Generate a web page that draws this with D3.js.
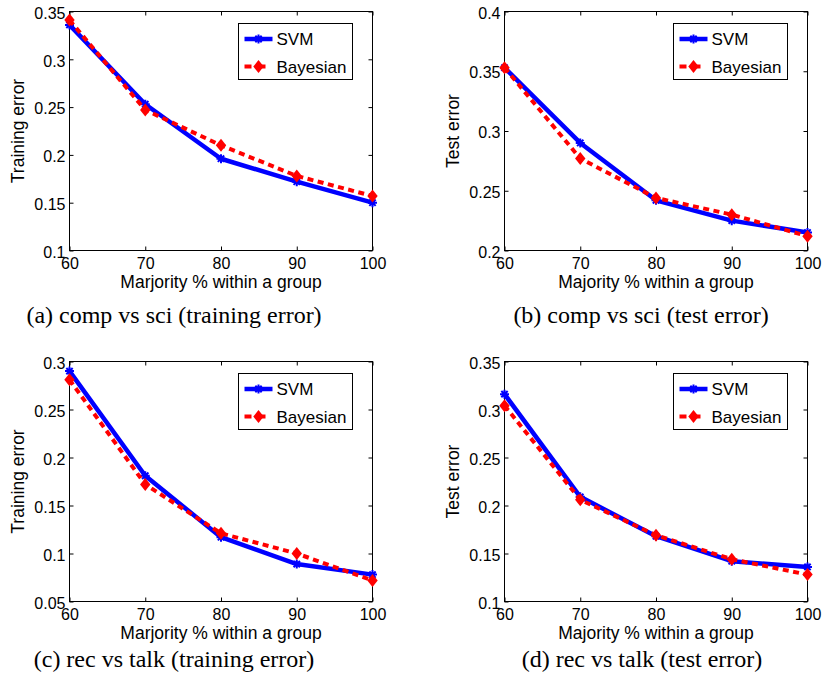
<!DOCTYPE html>
<html>
<head>
<meta charset="utf-8">
<script src="https://cdn.jsdelivr.net/npm/d3@7"></script>
<style>
  body { margin: 0; background: #fff; }
  svg { display: block; }
  .tick text { font-family: "Liberation Sans", Arial, sans-serif; font-size: 16px; fill: #000; }
  .tick line { stroke: #000; }
</style>
</head>
<body>
<div id="chart-area"></div>
<script>
// x values shared by all four panels
var majority = [60, 70, 80, 90, 100];

// (a) comp vs sci, training error
var svmCompTrain = [0.336, 0.253, 0.196, 0.172, 0.150];
var bayCompTrain = [0.341, 0.247, 0.210, 0.178, 0.157];
// (b) comp vs sci, test error
var svmCompTest = [0.353, 0.290, 0.242, 0.225, 0.215];
var bayCompTest = [0.353, 0.277, 0.244, 0.230, 0.212];
// (c) rec vs talk, training error
var svmRecTrain = [0.290, 0.181, 0.117, 0.089, 0.078];
var bayRecTrain = [0.281, 0.172, 0.121, 0.100, 0.072];
// (d) rec vs talk, test error
var svmRecTest = [0.316, 0.209, 0.168, 0.142, 0.136];
var bayRecTest = [0.304, 0.206, 0.169, 0.144, 0.128];

var yTicksA = [0.1, 0.15, 0.2, 0.25, 0.3, 0.35];
var yTicksB = [0.2, 0.25, 0.3, 0.35, 0.4];
var yTicksC = [0.05, 0.1, 0.15, 0.2, 0.25, 0.3];
var yTicksD = [0.1, 0.15, 0.2, 0.25, 0.3, 0.35];

var yTitles = ["Training error", "Test error", "Training error", "Test error"];
var xTitles = ["Marjority % within a group", "Majority % within a group",
               "Marjority % within a group", "Majority % within a group"];
var captions = ["(a) comp vs sci (training error)", "(b) comp vs sci (test error)",
                "(c) rec vs talk (training error)", "(d) rec vs talk (test error)"];
var seriesNames = ["SVM", "Bayesian"];

var panels = [
  { svm: svmCompTrain, bay: bayCompTrain, ticks: yTicksA, left: 69,  top: 11,  h: 239, capX: 174, capY: 323 },
  { svm: svmCompTest,  bay: bayCompTest,  ticks: yTicksB, left: 504, top: 11,  h: 239, capX: 641, capY: 323 },
  { svm: svmRecTrain,  bay: bayRecTrain,  ticks: yTicksC, left: 69,  top: 361, h: 240, capX: 174, capY: 667 },
  { svm: svmRecTest,   bay: bayRecTest,   ticks: yTicksD, left: 504, top: 361, h: 240, capX: 642, capY: 667 }
];

var W = 824, H = 688, pw = 303;
var blue = "#0000ff", red = "#ff0000";

var svg = d3.select("#chart-area")
  .append("svg")
    .attr("width", W)
    .attr("height", H);

svg.append("rect").attr("width", W).attr("height", H).attr("fill", "#fff");

function starPath(r) {
  var d = r * Math.SQRT1_2;
  return "M" + (-r) + ",0L" + r + ",0M0," + (-r) + "L0," + r +
         "M" + (-d) + "," + (-d) + "L" + d + "," + d +
         "M" + (-d) + "," + d + "L" + d + "," + (-d);
}
var diamond = "M0,-6.5L5.2,0L0,6.5L-5.2,0Z";

panels.forEach(function(p, i) {
  var g = svg.append("g")
    .attr("transform", "translate(" + (p.left + 0.5) + "," + (p.top + 0.5) + ")");

  var x = d3.scaleLinear().domain([60, 100]).range([0, pw]);
  var y = d3.scaleLinear().domain(d3.extent(p.ticks)).range([p.h, 0]);

  // inside ticks on all four sides, like matlab's box on
  g.append("g").attr("transform", "translate(0," + p.h + ")")
    .call(d3.axisBottom(x).tickValues(majority).tickSize(-4).tickSizeOuter(0).tickPadding(7));
  g.append("g")
    .call(d3.axisTop(x).tickValues(majority).tickSize(-4).tickSizeOuter(0).tickFormat(""));
  var left = g.append("g")
    .call(d3.axisLeft(y).tickValues(p.ticks).tickSize(-4).tickSizeOuter(0).tickPadding(4)
      .tickFormat(function(d) { return String(+d.toFixed(2)); }));
  g.append("g").attr("transform", "translate(" + pw + ",0)")
    .call(d3.axisRight(y).tickValues(p.ticks).tickSize(-4).tickSizeOuter(0).tickFormat(""));
  g.selectAll(".domain").remove();
  left.selectAll("text").attr("dy", "0.42em");

  g.append("rect")
    .attr("width", pw).attr("height", p.h)
    .attr("fill", "none").attr("stroke", "#000").attr("stroke-width", 1);

  var line = d3.line()
    .x(function(d, j) { return x(majority[j]); })
    .y(function(d) { return y(d); });

  g.append("path")
    .attr("d", line(p.svm))
    .attr("fill", "none").attr("stroke", blue).attr("stroke-width", 4.5)
    .attr("stroke-linejoin", "round");
  g.selectAll(".svm-pt").data(p.svm).enter().append("path")
    .attr("class", "svm-pt")
    .attr("transform", function(d, j) { return "translate(" + x(majority[j]) + "," + y(d) + ")"; })
    .attr("d", starPath(4.5))
    .attr("stroke", blue).attr("stroke-width", 2);

  g.append("path")
    .attr("d", line(p.bay))
    .attr("fill", "none").attr("stroke", red).attr("stroke-width", 4)
    .attr("stroke-dasharray", "6,4.5");
  g.selectAll(".bay-pt").data(p.bay).enter().append("path")
    .attr("class", "bay-pt")
    .attr("transform", function(d, j) { return "translate(" + x(majority[j]) + "," + y(d) + ")"; })
    .attr("d", diamond)
    .attr("fill", red);

  // legend
  var lg = g.append("g").attr("transform", "translate(" + (pw - 134) + ",12)");
  lg.append("rect").attr("width", 114).attr("height", 56)
    .attr("fill", "#fff").attr("stroke", "#000").attr("stroke-width", 1);
  seriesNames.forEach(function(name, k) {
    var cy = k === 0 ? 15.5 : 43;
    var row = lg.append("g").attr("transform", "translate(0," + cy + ")");
    if (k === 0) {
      row.append("line").attr("x1", 6).attr("x2", 34)
        .attr("stroke", blue).attr("stroke-width", 4.5);
      row.append("path").attr("transform", "translate(20,0)")
        .attr("d", starPath(4.5)).attr("stroke", blue).attr("stroke-width", 2);
    } else {
      row.append("line").attr("x1", 6).attr("x2", 34)
        .attr("stroke", red).attr("stroke-width", 4).attr("stroke-dasharray", "7,7");
      row.append("path").attr("transform", "translate(20,0)")
        .attr("d", diamond).attr("fill", red);
    }
    row.append("text")
      .attr("x", 38).attr("dy", "0.36em")
      .attr("font-family", "Liberation Sans, Arial, sans-serif")
      .attr("font-size", "17px")
      .text(name);
  });

  // axis titles
  g.append("text")
    .attr("x", pw / 2).attr("y", p.h + 37)
    .attr("text-anchor", "middle")
    .attr("font-family", "Liberation Sans, Arial, sans-serif")
    .attr("font-size", "17.5px")
    .text(xTitles[i]);

  g.append("text")
    .attr("transform", "translate(-45.5," + (p.h / 2) + ") rotate(-90)")
    .attr("text-anchor", "middle")
    .attr("font-family", "Liberation Sans, Arial, sans-serif")
    .attr("font-size", "17.5px")
    .text(yTitles[i]);

  // sub-figure caption
  svg.append("text")
    .attr("x", p.capX).attr("y", p.capY)
    .attr("text-anchor", "middle")
    .attr("font-family", "Liberation Serif, Times New Roman, serif")
    .attr("font-size", "24px")
    .text(captions[i]);
});
</script>
</body>
</html>
